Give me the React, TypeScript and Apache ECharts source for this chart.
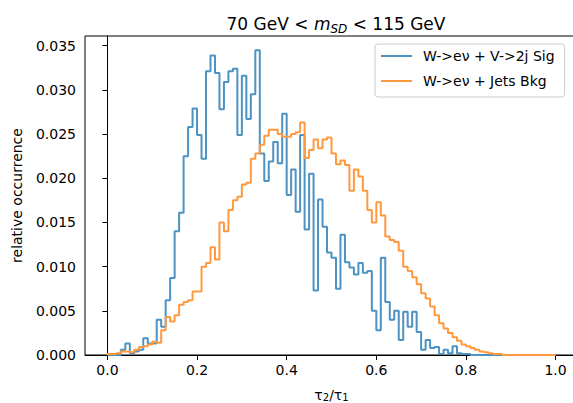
import React, { useEffect, useRef } from "react";
import * as echarts from "echarts";

// Histogram binning (100 bins over [0, 1])
const BIN_START = 0;
const BIN_WIDTH = 0.01;

// W->eν + V->2j Sig (relative occurrence per bin)
const sigValues = [
  0, 0, 0, 0.0006, 0.0013, 0.0002, 0.0004, 0.0006, 0.0019, 0.0013,
  0.0013, 0.004, 0.0032, 0.0062, 0.0087, 0.014, 0.0161, 0.0225, 0.0258, 0.0279,
  0.0249, 0.0222, 0.0321, 0.0339, 0.0319, 0.0278, 0.0309, 0.0321, 0.0324, 0.0249,
  0.0316, 0.0267, 0.0295, 0.0345, 0.0228, 0.0197, 0.0219, 0.0241, 0.0217, 0.0273,
  0.0181, 0.021, 0.0162, 0.0249, 0.0142, 0.0205, 0.0073, 0.0176, 0.0145, 0.0116,
  0.011, 0.0075, 0.0136, 0.0105, 0.0099, 0.0091, 0.0104, 0.0093, 0.0095, 0.005,
  0.0028, 0.011, 0.006, 0.004, 0.005, 0.0017, 0.0049, 0.0032, 0.0049, 0.0026,
  0.0006, 0.0017, 0.0008, 0.0009, 0.0001, 0.0006, 0.0002, 0.001, 0.0002, 0.0001,
  0.0001, 0, 0, 0, 0, 0, 0, 0, 0, 0,
  0, 0, 0, 0, 0, 0, 0, 0, 0, 0,
];

// W->eν + Jets Bkg (relative occurrence per bin)
const bkgValues = [
  0.0001, 0.0001, 0.0002, 0.0004, 0.0004, 0.0003, 0.0006, 0.0009, 0.001, 0.0012,
  0.0015, 0.0014, 0.0028, 0.0043, 0.0038, 0.0045, 0.0057, 0.006, 0.0062, 0.0072,
  0.0072, 0.01, 0.0104, 0.0122, 0.0108, 0.015, 0.014, 0.0164, 0.0175, 0.0179,
  0.0193, 0.0195, 0.0222, 0.0228, 0.0238, 0.0248, 0.0255, 0.0255, 0.025, 0.0247,
  0.0247, 0.025, 0.0252, 0.0263, 0.0223, 0.0232, 0.0244, 0.0234, 0.0244, 0.0246,
  0.0228, 0.0216, 0.022, 0.0215, 0.0186, 0.021, 0.0202, 0.0186, 0.0164, 0.015,
  0.0173, 0.0158, 0.0134, 0.013, 0.0128, 0.0118, 0.01, 0.0095, 0.0088, 0.008,
  0.007, 0.0064, 0.0055, 0.0045, 0.0036, 0.003, 0.0025, 0.002, 0.0016, 0.0012,
  0.001, 0.0008, 0.0006, 0.0004, 0.0003, 0.0002, 0.0001, 0.0001, 0, 0,
  0, 0, 0, 0, 0, 0, 0, 0, 0, 0,
];

const xTicks = [0, 0.2, 0.4, 0.6, 0.8, 1.0];
const yTicks = [0, 0.005, 0.01, 0.015, 0.02, 0.025, 0.03, 0.035];

const seriesNames = ["W->eν + V->2j Sig", "W->eν + Jets Bkg"];
const colors = ["#4c92c3", "#ff993e"];

function stepPoints(values: number[]): number[][] {
  const pts: number[][] = [[BIN_START, 0]];
  values.forEach((v, i) => {
    pts.push([+(BIN_START + i * BIN_WIDTH).toFixed(4), v]);
  });
  const end = +(BIN_START + values.length * BIN_WIDTH).toFixed(4);
  pts.push([end, values[values.length - 1]]);
  pts.push([end, 0]);
  return pts;
}

const FONT = "DejaVu Sans";

export default function App() {
  const ref = useRef<HTMLDivElement>(null);
  useEffect(() => {
    if (!ref.current) return;
    const chart = echarts.init(ref.current, undefined, { renderer: "svg" });
    chart.setOption({
      animation: false,
      textStyle: { fontFamily: FONT },
      title: {
        text: "70 GeV < {m|m}{sub|SD} < 115 GeV",
        left: 331,
        textAlign: "center",
        top: 8,
        textStyle: {
          fontFamily: FONT,
          fontSize: 17,
          fontWeight: "normal",
          color: "#000",
          lineHeight: 22,
          rich: {
            m: { fontFamily: FONT, fontSize: 17, fontStyle: "italic", color: "#000", lineHeight: 22 },
            sub: {
              fontFamily: FONT,
              fontSize: 12,
              fontStyle: "italic",
              color: "#000",
              verticalAlign: "bottom",
              lineHeight: 22,
              padding: [6, 0, 0, 0],
            },
          },
        },
      },
      legend: {
        orient: "vertical",
        left: 375,
        top: 44,
        padding: [5, 10, 9, 6],
        itemGap: 11,
        itemWidth: 31,
        itemHeight: 2,
        icon: "rect",
        backgroundColor: "#fff",
        borderColor: "#cccccc",
        borderWidth: 1,
        borderRadius: 3,
        textStyle: { fontFamily: FONT, fontSize: 14, color: "#000", padding: [0, 0, 0, 6] },
        data: seriesNames,
      },
      grid: {
        left: 85,
        top: 36,
        width: 493,
        height: 319,
        outerBoundsMode: "none",
        containLabel: false,
        show: true,
        borderColor: "#000",
        borderWidth: 1,
        backgroundColor: "transparent",
      },
      xAxis: {
        type: "value",
        min: -0.05,
        max: 1.05,
        splitLine: { show: false },
        axisLine: { show: true, onZero: false, lineStyle: { color: "#000", width: 1 } },
        axisTick: { show: true, length: 5, customValues: xTicks, lineStyle: { color: "#000" } },
        axisLabel: {
          customValues: xTicks,
          margin: 8,
          fontFamily: FONT,
          fontSize: 14,
          color: "#000",
          formatter: (v: number) => v.toFixed(1),
        },
        name: "τ{s|2}/τ{s|1}",
        nameLocation: "middle",
        nameGap: 32,
        nameTextStyle: {
          fontFamily: FONT,
          fontSize: 14,
          color: "#000",
          rich: {
            s: { fontFamily: FONT, fontSize: 10, color: "#000", verticalAlign: "bottom", padding: [5, 0, 0, 0] },
          },
        },
      },
      yAxis: {
        type: "value",
        min: 0,
        max: 0.0361,
        splitLine: { show: false },
        axisLine: { show: true, lineStyle: { color: "#000", width: 1 } },
        axisTick: { show: true, length: 5, customValues: yTicks, lineStyle: { color: "#000" } },
        axisLabel: {
          customValues: yTicks,
          margin: 9,
          fontFamily: FONT,
          fontSize: 14,
          color: "#000",
          formatter: (v: number) => v.toFixed(3),
        },
        name: "relative occurrence",
        nameLocation: "middle",
        nameGap: 61,
        nameTextStyle: { fontFamily: FONT, fontSize: 14, color: "#000" },
      },
      series: [
        {
          name: seriesNames[0],
          type: "line",
          step: "end",
          showSymbol: false,
          symbol: "none",
          data: stepPoints(sigValues),
          lineStyle: { color: colors[0], width: 2 },
          itemStyle: { color: colors[0] },
        },
        {
          name: seriesNames[1],
          type: "line",
          step: "end",
          showSymbol: false,
          symbol: "none",
          data: stepPoints(bkgValues),
          lineStyle: { color: colors[1], width: 2 },
          itemStyle: { color: colors[1] },
        },
      ],
    });
    return () => chart.dispose();
  }, []);
  return (
    <div
      ref={ref}
      style={{ position: "absolute", left: 0, top: 0, width: 573, height: 403 }}
    />
  );
}
